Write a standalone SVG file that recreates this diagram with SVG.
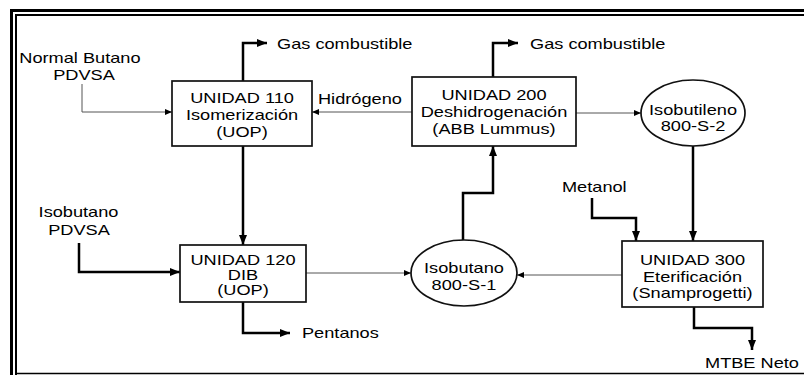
<svg xmlns="http://www.w3.org/2000/svg" width="804" height="375" viewBox="0 0 804 375">
<style>
text{font-family:"Liberation Sans",Arial,sans-serif;font-size:14px;fill:#000}
.m{text-anchor:middle}
.box{fill:#fff;stroke:#111;stroke-width:1.7}
.thick{fill:none;stroke:#000;stroke-width:2.5}
.thin{fill:none;stroke:#555;stroke-width:1}
.frame{fill:none;stroke:#000}
</style>
<defs>
<marker id="ah" markerUnits="userSpaceOnUse" markerWidth="10" markerHeight="8" refX="10" refY="4" orient="auto">
<path d="M0,0 L10,4 L0,8 Z" fill="#000"/>
</marker>
<marker id="at" markerUnits="userSpaceOnUse" markerWidth="7" markerHeight="6" refX="7" refY="3" orient="auto">
<path d="M0,0 L7,3 L0,6 Z" fill="#000"/>
</marker>
</defs>
<rect width="804" height="375" fill="#fff"/>
<g id="frame">
<path class="frame" d="M11.5,375 V10.5 H804" stroke-width="3"/>
<path class="frame" d="M16,375 V15 H804" stroke-width="2"/>
<path class="frame" d="M16,373.5 H804" stroke-width="1.5"/>
</g>
<g id="connectors">
<path class="thin" d="M82,84 V112 H172" marker-end="url(#at)"/>
<path class="thick" d="M243,81 V43 H267" marker-end="url(#ah)"/>
<path class="thick" d="M243,146 V245" marker-end="url(#ah)"/>
<path class="thick" d="M79,243 V272 H180" marker-end="url(#ah)"/>
<path class="thick" d="M243,302 V333 H290" marker-end="url(#ah)"/>
<path class="thin" d="M306,273 H411" marker-end="url(#at)"/>
<path class="thick" d="M463,240 V193 H493 V146" marker-end="url(#ah)"/>
<path class="thin" d="M622,275 H517" marker-end="url(#at)"/>
<path class="thin" d="M412,112 H312" marker-end="url(#at)"/>
<path class="thick" d="M493,77 V43 H518" marker-end="url(#ah)"/>
<path class="thin" d="M576,113 H641" marker-end="url(#at)"/>
<path class="thick" d="M693,146 V241" marker-end="url(#ah)"/>
<path class="thick" d="M592,198 V218 H636 V241" marker-end="url(#ah)"/>
<path class="thick" d="M694,307 V328 H752 V350" marker-end="url(#ah)"/>
</g>
<g id="labels" transform="scale(1.3 1)">
<text class="m" x="61.5" y="63">Normal Butano</text>
<text class="m" x="64.6" y="80">PDVSA</text>
<text x="213.1" y="49">Gas combustible</text>
<text x="407.7" y="49">Gas combustible</text>
<text x="244.6" y="104">Hidrógeno</text>
<text class="m" x="60.4" y="217">Isobutano</text>
<text class="m" x="60.8" y="235">PDVSA</text>
<text x="232.3" y="338">Pentanos</text>
<text x="432.3" y="192">Metanol</text>
<text x="542.3" y="368">MTBE Neto</text>
</g>
<g id="u110">
<rect class="box" x="172" y="81" width="140" height="65"/>
<g transform="scale(1.3 1)">
<text class="m" x="186.2" y="103">UNIDAD 110</text>
<text class="m" x="186.2" y="120">Isomerización</text>
<text class="m" x="186.2" y="137">(UOP)</text>
</g>
</g>
<g id="u200">
<rect class="box" x="412" y="77" width="164" height="69"/>
<g transform="scale(1.3 1)">
<text class="m" x="380" y="100">UNIDAD 200</text>
<text class="m" x="380" y="117">Deshidrogenación</text>
<text class="m" x="380" y="134">(ABB Lummus)</text>
</g>
</g>
<g id="isobutileno">
<ellipse class="box" cx="693" cy="113" rx="52" ry="33"/>
<g transform="scale(1.3 1)">
<text class="m" x="533.1" y="115">Isobutileno</text>
<text class="m" x="533.1" y="131">800-S-2</text>
</g>
</g>
<g id="u120">
<rect class="box" x="180" y="245" width="126" height="57"/>
<g transform="scale(1.3 1)">
<text class="m" x="186.9" y="265">UNIDAD 120</text>
<text class="m" x="186.9" y="280">DIB</text>
<text class="m" x="186.9" y="295">(UOP)</text>
</g>
</g>
<g id="isobutano">
<ellipse class="box" cx="464" cy="273" rx="53" ry="33"/>
<g transform="scale(1.3 1)">
<text class="m" x="356.9" y="273">Isobutano</text>
<text class="m" x="356.9" y="290">800-S-1</text>
</g>
</g>
<g id="u300">
<rect class="box" x="622" y="241" width="141" height="66"/>
<g transform="scale(1.3 1)">
<text class="m" x="532.7" y="265">UNIDAD 300</text>
<text class="m" x="532.7" y="282">Eterificación</text>
<text class="m" x="532.7" y="298">(Snamprogetti)</text>
</g>
</g>
</svg>
